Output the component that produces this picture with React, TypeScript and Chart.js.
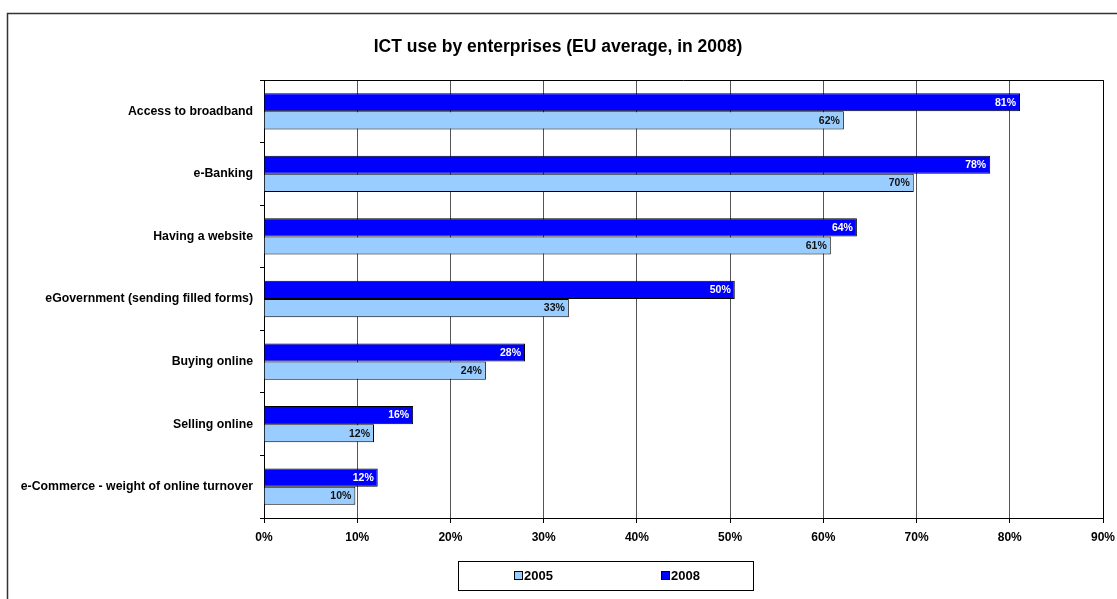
import React, { useEffect, useRef } from "react";
import { Chart, registerables } from "chart.js";

Chart.register(...registerables);

const categories = [
  "Access to broadband",
  "e-Banking",
  "Having a website",
  "eGovernment (sending filled forms)",
  "Buying online",
  "Selling online",
  "e-Commerce - weight of online turnover",
];
const values2008 = [81.1, 77.9, 63.6, 50.5, 28.0, 16.0, 12.2];
const values2005 = [62.2, 69.7, 60.8, 32.7, 23.8, 11.8, 9.8];
const labels2008 = ["81%", "78%", "64%", "50%", "28%", "16%", "12%"];
const labels2005 = ["62%", "70%", "61%", "33%", "24%", "12%", "10%"];
const xTicks = [0, 10, 20, 30, 40, 50, 60, 70, 80, 90];
const titleText = "ICT use by enterprises (EU average, in 2008)";
const legendNames = ["2005", "2008"];

const FONT = "'Liberation Sans', Arial, Helvetica, sans-serif";
const C2008 = "#0000FF";
const C2005 = "#99CCFF";

const decor = {
  id: "decor",
  afterDraw(chart: any) {
    const ctx = chart.ctx;
    const a = chart.chartArea;
    ctx.save();
    // outer border
    ctx.strokeStyle = "#333333";
    ctx.lineWidth = 1.5;
    ctx.strokeRect(7.5, 13.5, 1130, 620);
    // plot top & right border
    ctx.strokeStyle = "#000000";
    ctx.lineWidth = 1;
    ctx.beginPath();
    ctx.moveTo(a.left, Math.round(a.top) + 0.5);
    ctx.lineTo(Math.round(a.right) + 0.5, Math.round(a.top) + 0.5);
    ctx.lineTo(Math.round(a.right) + 0.5, a.bottom);
    ctx.stroke();
    // title
    ctx.fillStyle = "#000";
    ctx.font = `bold 17.5px ${FONT}`;
    ctx.textAlign = "center";
    ctx.textBaseline = "middle";
    ctx.fillText(titleText, 558, 47);
    // data labels
    ctx.font = `bold 10.5px ${FONT}`;
    ctx.textAlign = "right";
    chart.data.datasets.forEach((ds: any, di: number) => {
      const meta = chart.getDatasetMeta(di);
      meta.data.forEach((bar: any, i: number) => {
        ctx.fillStyle = ds.labelColor;
        ctx.fillText(ds.valueLabels[i], bar.x - 4, bar.y + 0.5);
      });
    });
    // legend
    ctx.strokeStyle = "#000";
    ctx.lineWidth = 1;
    ctx.fillStyle = "#fff";
    ctx.fillRect(458.5, 561.5, 295, 29);
    ctx.strokeRect(458.5, 561.5, 295, 29);
    const items = [
      { name: legendNames[0], color: C2005, x: 514 },
      { name: legendNames[1], color: C2008, x: 661 },
    ];
    ctx.font = `bold 13px ${FONT}`;
    ctx.textAlign = "left";
    items.forEach((it) => {
      ctx.fillStyle = it.color;
      ctx.fillRect(it.x + 0.5, 571.5, 8, 8);
      ctx.strokeStyle = "#000";
      ctx.strokeRect(it.x + 0.5, 571.5, 8, 8);
      ctx.fillStyle = "#000";
      ctx.fillText(it.name, it.x + 10, 576.5);
    });
    ctx.restore();
  },
};

export default function App() {
  const ref = useRef<HTMLCanvasElement>(null);
  useEffect(() => {
    if (!ref.current) return;
    const chart = new Chart(ref.current, {
      type: "bar",
      data: {
        labels: categories,
        datasets: [
          {
            label: legendNames[1],
            data: values2008,
            backgroundColor: C2008,
            borderColor: "#000",
            borderWidth: 1,
            categoryPercentage: 0.58,
            barPercentage: 1.0,
            valueLabels: labels2008,
            labelColor: "#ffffff",
          } as any,
          {
            label: legendNames[0],
            data: values2005,
            backgroundColor: C2005,
            borderColor: "#000",
            borderWidth: 1,
            categoryPercentage: 0.58,
            barPercentage: 1.0,
            valueLabels: labels2005,
            labelColor: "#111111",
          } as any,
        ],
      },
      options: {
        indexAxis: "y",
        animation: false,
        responsive: true,
        maintainAspectRatio: false,
        layout: { padding: { top: 80, right: 14, left: 0, bottom: 0 } },
        plugins: {
          legend: { display: false },
          title: { display: false },
          tooltip: { enabled: false },
        },
        scales: {
          x: {
            min: 0,
            max: 90,
            afterBuildTicks: (scale: any) => {
              scale.ticks = xTicks.map((v) => ({ value: v }));
            },
            afterFit: (scale: any) => {
              scale.height = 81;
              scale.paddingLeft = 0;
              scale.paddingRight = 0;
            },
            ticks: {
              callback: (v: any) => v + "%",
              font: { family: FONT, size: 12, weight: "bold" },
              color: "#000",
              padding: 7,
              maxRotation: 0,
            },
            grid: {
              color: "#555555",
              lineWidth: 1,
              tickLength: 5,
              tickColor: "#000",
            },
            border: { color: "#000", width: 1 },
          },
          y: {
            afterFit: (scale: any) => {
              scale.width = 264;
            },
            ticks: {
              font: { family: FONT, size: 12.3, weight: "bold" },
              color: "#000",
              padding: 7,
            },
            grid: {
              drawOnChartArea: false,
              tickLength: 4,
              tickColor: "#000",
              offset: true,
            },
            border: { color: "#000", width: 1 },
          },
        },
      },
      plugins: [decor],
    });
    return () => chart.destroy();
  }, []);
  return (
    <div style={{ position: "fixed", left: 0, top: 0, width: 1117, height: 599, background: "#fff" }}>
      <canvas ref={ref} />
    </div>
  );
}
